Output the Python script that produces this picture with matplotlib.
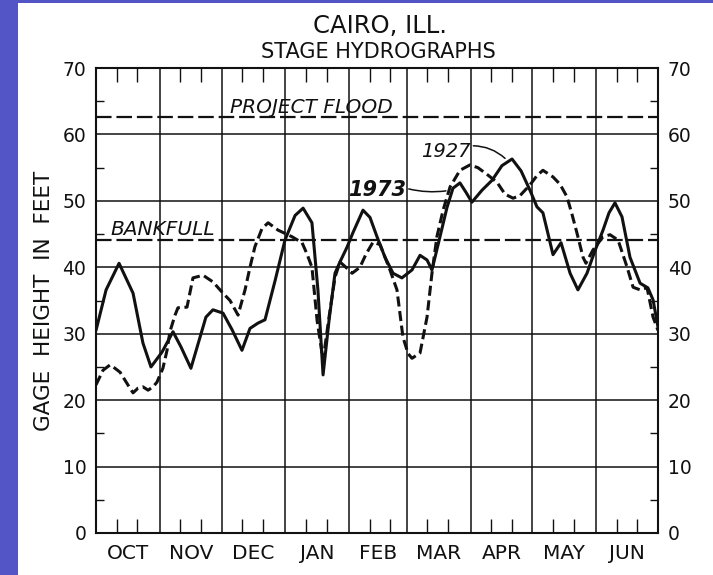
import matplotlib
matplotlib.use('Agg')
import matplotlib.pyplot as plt
from matplotlib.patches import Rectangle
import numpy as np

# month layout of the water year
months = ['OCT', 'NOV', 'DEC', 'JAN', 'FEB', 'MAR', 'APR', 'MAY', 'JUN']
month_days = [31, 30, 31, 31, 28, 31, 30, 31, 30]

# 1927 stage (solid), days from Oct 1 / feet
day_1927 = [0, 4.9, 11.2, 18.0, 22.8, 26.7, 32.0, 37.4, 41.3, 46.1, 53.4, 56.8,
            61.7, 66.1, 70.9, 74.8, 78.7, 82.1, 87.0, 91.8, 96.7, 100.6, 104.9,
            107.8, 110.3, 113.2, 116.1, 118.5, 121.9, 124.8, 129.7, 133.1, 136.5,
            140.4, 144.3, 148.6, 153.5, 157.4, 160.8, 163.2, 167.1, 170.5, 173.4,
            176.8, 179.7, 182.6, 187.5, 192.4, 197.2, 202.1, 206.5, 210.8, 214.2,
            217.1, 219.6, 222.0, 225.9, 230.3, 234.1, 238.5, 242.4, 246.3, 249.2,
            252.1, 255.5, 259.4, 264.3, 268.1, 270.6, 273.0]
ft_1927 = [30.5, 36.6, 40.6, 36.1, 28.6, 25.0, 27.2, 30.3, 28.0, 24.8, 32.5, 33.6,
           33.1, 30.6, 27.5, 30.8, 31.6, 32.1, 38.0, 44.1, 47.8, 48.9, 46.7,
           36.6, 23.8, 32.0, 39.1, 40.8, 43.0, 45.2, 48.6, 47.5, 44.6,
           41.5, 39.1, 38.4, 39.6, 41.8, 41.1, 39.6, 44.6, 49.0, 51.9,
           52.7, 51.3, 49.8, 51.6, 53.1, 55.3, 56.3, 54.5, 51.6, 49.1,
           48.2, 45.0, 41.9, 43.7, 39.1, 36.6, 39.1, 42.5, 45.6, 48.2,
           49.7, 47.6, 41.5, 37.6, 36.9, 35.1, 31.0]

# 1973 stage (dashed)
day_1973 = [0, 3.4, 6.8, 9.2, 11.7, 14.1, 16.5, 18.0, 20.4, 22.8, 25.3, 27.7,
            29.6, 32.5, 34.5, 35.9, 38.4, 39.8, 44.2, 47.1, 52.0, 56.8, 61.7,
            65.1, 69.0, 72.4, 74.8, 77.2, 80.6, 83.6, 88.4, 95.2, 100.1, 102.5,
            104.9, 107.4, 110.3, 113.2, 116.1, 118.5, 121.4, 124.4, 128.2, 131.2,
            134.6, 138.0, 142.8, 146.2, 149.1, 151.6, 153.5, 157.4, 160.8, 163.2,
            165.6, 168.6, 172.0, 176.8, 181.6, 185.5, 190.3, 194.8, 198.7, 202.6,
            206.0, 210.8, 214.2, 217.1, 222.0, 225.4, 228.8, 231.2, 233.6, 236.6,
            238.0, 241.4, 246.3, 249.7, 253.6, 258.0, 260.9, 264.3, 267.7, 270.6,
            273.0]
ft_1973 = [22.3, 24.5, 25.3, 24.8, 24.2, 23.0, 21.8, 21.1, 21.8, 22.0, 21.5, 22.0,
           22.7, 24.8, 27.5, 30.3, 32.8, 33.9, 34.0, 38.4, 38.8, 37.8, 36.1,
           35.0, 32.8, 36.6, 40.0, 43.1, 45.8, 46.7, 45.6, 44.6, 43.7, 42.0,
           40.0, 32.0, 26.0, 32.5, 38.5, 40.8, 40.0, 39.1, 40.0, 42.0,
           43.8, 43.4, 39.6, 36.6, 29.5, 27.0, 26.3, 27.1, 32.5, 39.1,
           44.6, 48.6, 52.1, 54.6, 55.4, 55.0, 53.9, 52.8, 51.0, 50.4,
           50.8, 52.4, 53.8, 54.6, 53.6, 52.5, 50.6, 48.0, 45.2, 41.5,
           40.6, 42.6, 44.6, 44.9, 44.1, 40.0, 37.0, 36.6, 36.9, 32.5,
           30.5]

project_flood = 62.6
bankfull = 44.1

ink = '#111111'

fig = plt.figure(figsize=(7.13, 5.75), dpi=100)
fig.patch.set_facecolor('white')

# blue slide edges around the scanned chart
fig.patches.append(Rectangle((0, 0), 18 / 713, 1, transform=fig.transFigure,
                             facecolor='#5355c6', edgecolor='none', zorder=0))
fig.patches.append(Rectangle((0, 1 - 3 / 575), 1, 3 / 575, transform=fig.transFigure,
                             facecolor='#5355c6', edgecolor='none', zorder=0))

ax = fig.add_axes([96 / 713, 42 / 575, 562 / 713, 465 / 575])

edges = np.concatenate([[0], np.cumsum(month_days)])
mids = (edges[:-1] + edges[1:]) / 2
total = edges[-1]

# grid
for x in edges[1:-1]:
    ax.axvline(x, color=ink, lw=1.1, zorder=1)
for y in range(10, 70, 10):
    ax.axhline(y, color=ink, lw=1.1, zorder=1)

# reference levels
ax.axhline(project_flood, color=ink, lw=1.6, dashes=(7, 2.2), zorder=2)
ax.axhline(bankfull, color=ink, lw=1.6, dashes=(7, 2.2), zorder=2)
ax.text(65, 63.3, 'PROJECT FLOOD', fontsize=14.5, style='italic', color=ink,
        va='baseline', ha='left')
ax.text(6.8, 44.9, 'BANKFULL', fontsize=14.5, style='italic', color=ink,
        va='baseline', ha='left')

# hydrographs
ax.plot(day_1927, ft_1927, color=ink, lw=2.2, zorder=3,
        solid_joinstyle='round', solid_capstyle='round')
ax.plot(day_1973, ft_1973, color=ink, lw=2.2, dashes=(3.3, 1.5), zorder=3,
        dash_joinstyle='round')

# curve labels with leaders
ax.annotate('1927', xy=(198.7, 56.4), xytext=(157.9, 56.6), fontsize=14,
            style='italic', color=ink, va='baseline', ha='left',
            arrowprops=dict(arrowstyle='-', color=ink, lw=1.1,
                            shrinkA=0, shrinkB=0,
                            connectionstyle='arc3,rad=-0.2',
                            relpos=(1.0, 0.8)))
ax.annotate('1973', xy=(170.0, 51.5), xytext=(122.4, 50.7), fontsize=15,
            style='italic', weight='bold', color=ink, va='baseline', ha='left',
            arrowprops=dict(arrowstyle='-', color=ink, lw=1.1,
                            shrinkA=0, shrinkB=0,
                            connectionstyle='arc3,rad=0.1',
                            relpos=(1.0, 0.6)))

ax.set_xlim(0, total)
ax.set_ylim(0, 70)

# x ticks: inward marks at the 10th and 20th of each month, month names in the middle
tick_days = [e + d for e in edges[:-1] for d in (10, 20)]
ax.set_xticks(tick_days)
ax.set_xticklabels([])
ax.set_xticks(mids, labels=months, minor=True)
ax.tick_params(axis='x', which='major', direction='in', length=10, width=1.0,
               top=True, bottom=True, color=ink)
ax.tick_params(axis='x', which='minor', length=0, pad=8, labelsize=14.5,
               labelcolor=ink)

# y ticks: labels both sides, short inward marks at the fives
ax.set_yticks(range(0, 71, 10))
ax.set_yticks(range(5, 70, 10), minor=True)
ax.tick_params(axis='y', which='major', length=0, pad=7, labelsize=13.5,
               labelleft=True, labelright=True, labelcolor=ink)
ax.tick_params(axis='y', which='minor', direction='in', length=6, width=1.0,
               left=True, right=True, color=ink)

for s in ax.spines.values():
    s.set_color(ink)
    s.set_linewidth(1.5)

ax.set_ylabel('GAGE  HEIGHT  IN  FEET', fontsize=15.5, color=ink, labelpad=6)

fig.text(380 / 713, 1 - 26 / 575, 'CAIRO, ILL.', fontsize=17.5, color=ink,
         ha='center', va='center')
fig.text(378 / 713, 1 - 52 / 575, 'STAGE HYDROGRAPHS', fontsize=15, color=ink,
         ha='center', va='center')

fig.savefig('out.png', dpi=100)
